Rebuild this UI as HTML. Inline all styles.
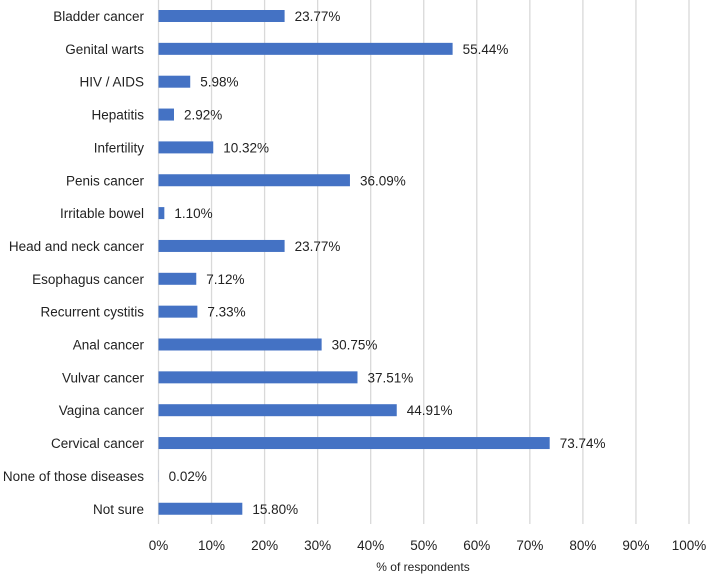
<!DOCTYPE html>
<html><head><meta charset="utf-8"><style>
body{margin:0;background:#fff;}
svg{display:block;font-family:"Liberation Sans",sans-serif;}
</style></head><body>
<svg id="chart" width="706" height="574" viewBox="0 0 706 574"></svg>
<script>
const categories=["Bladder cancer","Genital warts","HIV / AIDS","Hepatitis","Infertility","Penis cancer","Irritable bowel","Head and neck cancer","Esophagus cancer","Recurrent cystitis","Anal cancer","Vulvar cancer","Vagina cancer","Cervical cancer","None of those diseases","Not sure"];
const values=[23.77,55.44,5.98,2.92,10.32,36.09,1.10,23.77,7.12,7.33,30.75,37.51,44.91,73.74,0.02,15.80];
const tickValues=[0,10,20,30,40,50,60,70,80,90,100];
const tickLabels=["0%","10%","20%","30%","40%","50%","60%","70%","80%","90%","100%"];
const svg=document.getElementById('chart');
const NS='http://www.w3.org/2000/svg';
const x0=158.5,x1=689;
const xs=v=>x0+(v/100)*(x1-x0);
const ys=i=>16+i*32.85;
function mk(t,a){const e=document.createElementNS(NS,t);for(const k in a)e.setAttribute(k,a[k]);svg.appendChild(e);return e;}
tickValues.forEach((v,i)=>{
  const g=mk('line',{x1:xs(v),x2:xs(v),y1:0,y2:524,stroke:'#d9d9d9','stroke-width':1.3});
  
  
  const t=mk('text',{x:xs(v),y:550,'text-anchor':'middle','font-size':13.5,fill:'#222'});
  t.textContent=tickLabels[i];
  
  
});
categories.forEach((c,i)=>{
  const y=ys(i);
  const l=mk('text',{x:144,y:y+5,'text-anchor':'end','font-size':13.5,fill:'#222'});
  l.textContent=c;
  
  
  const b=mk('rect',{x:x0,y:y-6,width:Math.max(0,xs(values[i])-x0),height:12,fill:'#4472c4'});
  
  
  const v=mk('text',{x:xs(values[i])+10,y:y+5,'font-size':13.5,fill:'#222'});
  v.textContent=values[i].toFixed(2)+'%';
  
  
});
const at=mk('text',{x:423,y:571,'text-anchor':'middle','font-size':12,fill:'#222'});
at.textContent='% of respondents';


</script>
</body></html>
